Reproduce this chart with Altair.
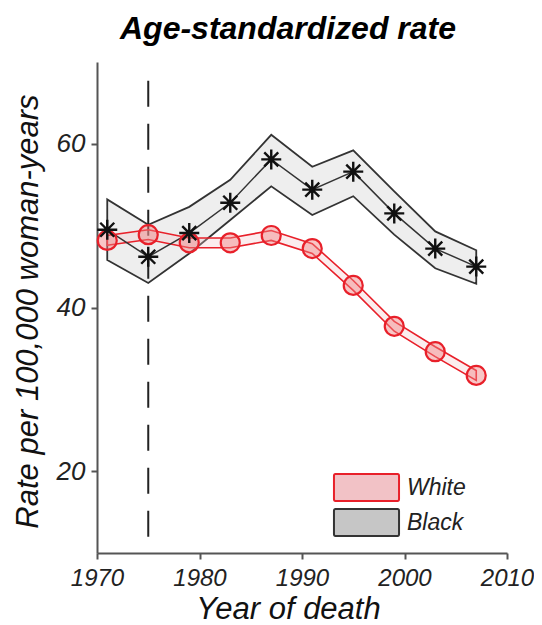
import altair as alt
import pandas as pd

# ---- data ----
years = [1971, 1975, 1979, 1983, 1987, 1991, 1995, 1999, 2003, 2007]
white_rate = [48.2, 48.9, 47.9, 47.9, 48.8, 47.2, 42.7, 37.7, 34.6, 31.7]
white_lo = [47.6, 48.3, 47.3, 47.3, 48.2, 46.6, 42.1, 37.1, 34.0, 31.1]
white_hi = [48.8, 49.5, 48.5, 48.5, 49.4, 47.8, 43.3, 38.3, 35.2, 32.3]
black_rate = [49.5, 46.2, 49.1, 52.8, 58.1, 54.4, 56.6, 51.5, 47.2, 45.0]
black_lo = [45.8, 43.0, 46.6, 50.7, 54.8, 51.3, 53.6, 48.9, 44.8, 42.9]
black_hi = [53.2, 50.1, 52.3, 55.6, 61.1, 57.2, 59.2, 54.2, 49.3, 47.0]

groups = ["White", "Black"]
fill_colors = ["#f2c2c6", "#c6c6c6"]
stroke_colors = ["#e8202a", "#333333"]

ref_year = [1975]
ref_lo = [12]
ref_hi = [68]

x_ticks = [1970, 1980, 1990, 2000, 2010]
y_ticks = [20, 40, 60]

FONT = "Liberation Sans"

white_df = pd.DataFrame({"year": years, "rate": white_rate, "lo": white_lo,
                         "hi": white_hi, "group": "White"})
black_df = pd.DataFrame({"year": years, "rate": black_rate, "lo": black_lo,
                         "hi": black_hi, "group": "Black"})
ref_df = pd.DataFrame({"year": ref_year, "lo": ref_lo, "hi": ref_hi})

x_enc = alt.X("year:Q",
              scale=alt.Scale(domain=[1970, 2010], nice=False, zero=False),
              axis=alt.Axis(values=x_ticks, format="d", title="Year of death",
                            titleX=191, titleY=65, titleAlign="center",
                            titleBaseline="alphabetic", labelFlush=False,
                            labelOverlap=False))
y_scale = alt.Scale(domain=[10, 70], nice=False, zero=False)
y_axis = alt.Axis(values=y_ticks, title="Rate per 100,000 woman-years",
                  titleX=-60, titleY=249, titleAngle=270, titleAlign="center",
                  titleBaseline="alphabetic", labelFlush=False)

# wide rounded swatch drawn in symbol units (1 unit = sqrt(size)/2 px)
swatch = "M-2.3,-1L2.3,-1Q2.41,-1 2.41,-0.85L2.41,0.85Q2.41,1 2.3,1L-2.3,1Q-2.41,1 -2.41,0.85L-2.41,-0.85Q-2.41,-1 -2.3,-1Z"
legend = alt.Legend(title=None, orient="none", legendX=255, legendY=411,
                    symbolType=swatch,
                    symbolSize=729, symbolStrokeWidth=2, symbolOpacity=1,
                    labelFont=FONT, labelFontStyle="italic", labelFontSize=23,
                    labelColor="#222222", labelOffset=26, rowPadding=0,
                    padding=0)

fill_enc = alt.Fill("group:N", scale=alt.Scale(domain=groups, range=fill_colors),
                    legend=legend)
stroke_enc = alt.Stroke("group:N", scale=alt.Scale(domain=groups, range=stroke_colors),
                        legend=legend)

black_band = alt.Chart(black_df).mark_area(fillOpacity=0.3, strokeWidth=1.8).encode(
    x=x_enc,
    y=alt.Y("lo:Q", scale=y_scale, axis=y_axis),
    y2="hi:Q",
    fill=fill_enc,
    stroke=stroke_enc,
)

ref_rule = alt.Chart(ref_df).mark_rule(color="#222222", strokeWidth=2,
                                       strokeDash=[26, 17]).encode(
    x="year:Q", y="lo:Q", y2="hi:Q")

white_band = alt.Chart(white_df).mark_area(fillOpacity=0.3, strokeWidth=1.6).encode(
    x="year:Q",
    y="lo:Q",
    y2="hi:Q",
    fill=fill_enc,
    stroke=stroke_enc,
)

black_line = alt.Chart(black_df).mark_line(color="#333333", strokeWidth=1.5).encode(
    x="year:Q", y="rate:Q")

white_pts = alt.Chart(white_df).mark_point(
    shape="circle", size=361, filled=False, fill="#f08080", fillOpacity=0.45,
    stroke="#e8202a", strokeWidth=2.2, opacity=1).encode(
    x="year:Q", y="rate:Q")

black_pts = alt.Chart(black_df).mark_point(
    shape="M0,-1L0,1M-1,0L1,0M-0.7,-0.7L0.7,0.7M-0.7,0.7L0.7,-0.7",
    size=400, stroke="#111111", strokeWidth=2.4, opacity=1).encode(
    x="year:Q", y="rate:Q")

chart = alt.layer(black_band, ref_rule, white_band, black_line, white_pts, black_pts).properties(
    width=410, height=491,
    autosize=alt.AutoSizeParams(type="none"),
    padding={"left": 89, "top": 54, "right": 27, "bottom": 72},
    title=alt.TitleParams("Age-standardized rate", font=FONT, fontSize=32,
                          fontWeight="bold", fontStyle="italic", anchor="middle",
                          dx=-14, dy=31, offset=22, color="#000000",
                          baseline="alphabetic"),
).configure_view(stroke=None).configure_axis(
    grid=False,
    domainColor="#555555", domainWidth=2,
    tickColor="#555555", tickWidth=2, tickSize=6,
    labelFont=FONT, labelFontStyle="italic", labelFontSize=24,
    labelColor="#222222", labelPadding=6,
    titleFont=FONT, titleFontStyle="italic", titleFontWeight="normal",
    titleFontSize=31, titleColor="#111111",
).configure_axisX(labelPadding=7).configure_axisY(labelFontSize=26)

chart.save("out.html", embed_options={"renderer": "svg", "actions": False})
